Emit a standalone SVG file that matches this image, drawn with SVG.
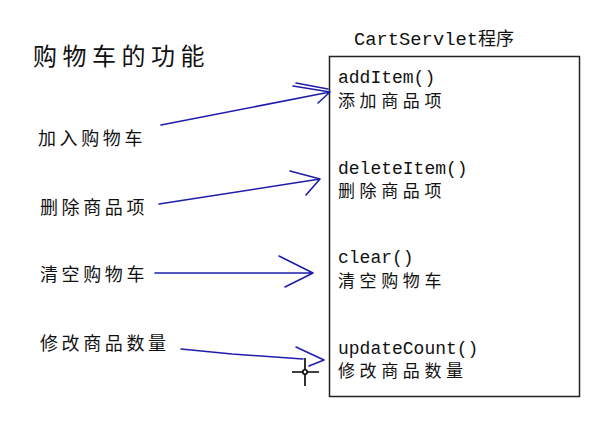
<svg xmlns="http://www.w3.org/2000/svg" width="606" height="423" viewBox="0 0 606 423">
<style>
.cn{font-family:"Noto Sans CJK SC","Noto Sans CJK JP",sans-serif;font-size:18px;fill:#111;letter-spacing:3.6px}
.cb{font-family:"Noto Sans CJK SC","Noto Sans CJK JP",sans-serif;font-size:17px;fill:#111;letter-spacing:4.6px}
.mono{font-family:"Liberation Mono","DejaVu Sans Mono",monospace;font-size:18px;fill:#111}
.arr{fill:none;stroke:#1e1eaa;stroke-width:1.6;stroke-linecap:round;stroke-linejoin:round}
</style>
<rect width="606" height="423" fill="#fff"/>
<text x="33" y="65" style="font-family:'Noto Sans CJK SC',sans-serif;font-size:24px;fill:#111;letter-spacing:5.5px">购物车的功能</text>
<g id="cartservlet">
<text class="mono" x="354" y="45" style="font-size:18.8px">CartServlet<tspan style="font-family:'Noto Sans CJK SC',sans-serif;font-size:18px">程序</tspan></text>
<rect x="329.5" y="56.5" width="250" height="340" fill="#fff" stroke="#222" stroke-width="1.5"/>
</g>
<g id="m1"><text class="mono" x="338" y="83">addItem()</text><text class="cb" x="338" y="107">添加商品项</text></g>
<g id="m2"><text class="mono" x="338" y="174">deleteItem()</text><text class="cb" x="338" y="197">删除商品项</text></g>
<g id="m3"><text class="mono" x="338" y="263">clear()</text><text class="cb" x="338" y="287">清空购物车</text></g>
<g id="m4"><text class="mono" x="338" y="354">updateCount()</text><text class="cb" x="338" y="377">修改商品数量</text></g>
<g id="l1"><text class="cn" x="38" y="145">加入购物车</text></g>
<g id="l2"><text class="cn" x="40" y="214">删除商品项</text></g>
<g id="l3"><text class="cn" x="40" y="281">清空购物车</text></g>
<g id="l4"><text class="cn" x="40" y="350">修改商品数量</text></g>
<g id="connectors">
<path class="arr" d="M161 125 L330 92 M293 86 L330 92 L318 103 M296 83 L328 89"/>
<path class="arr" d="M159 204 L320 179 M290 171 L320 179 L306 195"/>
<path class="arr" d="M155 273 L313 273 M279 256 L313 273 L285 287"/>
<path class="arr" d="M181 349 L232 354 L303 359 M296 347 L324 360 L309 366"/>
</g>
<g id="cursor" stroke="#000" stroke-width="1.6" fill="none">
<path d="M292 372 H319 M305 358 V386"/>
<circle cx="305" cy="372" r="2.2" fill="#fff"/>
</g>
</svg>
